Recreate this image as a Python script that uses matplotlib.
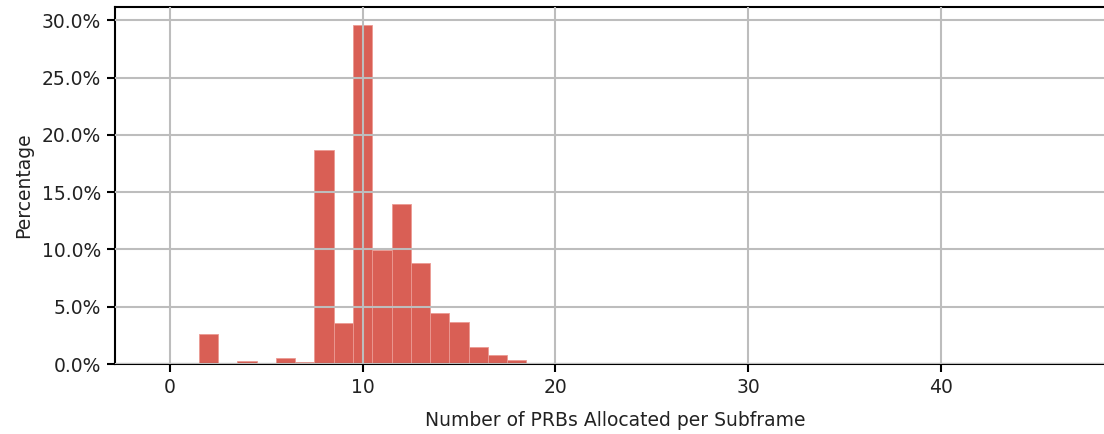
import numpy as np
import matplotlib
matplotlib.use('Agg')
import matplotlib.pyplot as plt
from matplotlib.ticker import PercentFormatter

# share of subframes (%) for each PRB count
prb_counts = list(range(0, 20))
share_pct = [0.0, 0.0, 2.62, 0.0, 0.23, 0.0, 0.49, 0.17, 18.7, 3.55,
             29.6, 9.96, 13.98, 8.83, 4.42, 3.64, 1.45, 0.81, 0.31, 0.05]

BAR_COLOR = '#d95f55'
plt.rcParams.update({'font.size': 13.5, 'font.family': 'DejaVu Sans'})

fig = plt.figure(figsize=(11.04, 4.34), dpi=100)
ax = fig.add_axes([115/1104, 70/434, 1000/1104, 357.5/434])

ax.bar(prb_counts, share_pct, width=1.0, color=BAR_COLOR,
       edgecolor='#eb9a93', linewidth=0.6, zorder=2)

ax.set_xlim(-2.85, -2.85 + 1000/19.27)
ax.set_ylim(0, 31.2)
ax.set_xticks([0, 10, 20, 30, 40])
ax.set_yticks(np.arange(0, 31, 5))
ax.yaxis.set_major_formatter(PercentFormatter(decimals=1))
ax.grid(True, color='#bdbdbd', linewidth=1.5, zorder=3)
ax.set_axisbelow(False)
for s in ax.spines.values():
    s.set_linewidth(1.5)
ax.tick_params(direction='out', length=6, width=1.5, pad=4, colors='black',
               labelcolor='#222222')

ax.set_xlabel('Number of PRBs Allocated per Subframe', color='#222222', labelpad=10)
ax.set_ylabel('Percentage', color='#222222', labelpad=6)

fig.savefig('out.png', dpi=100)
